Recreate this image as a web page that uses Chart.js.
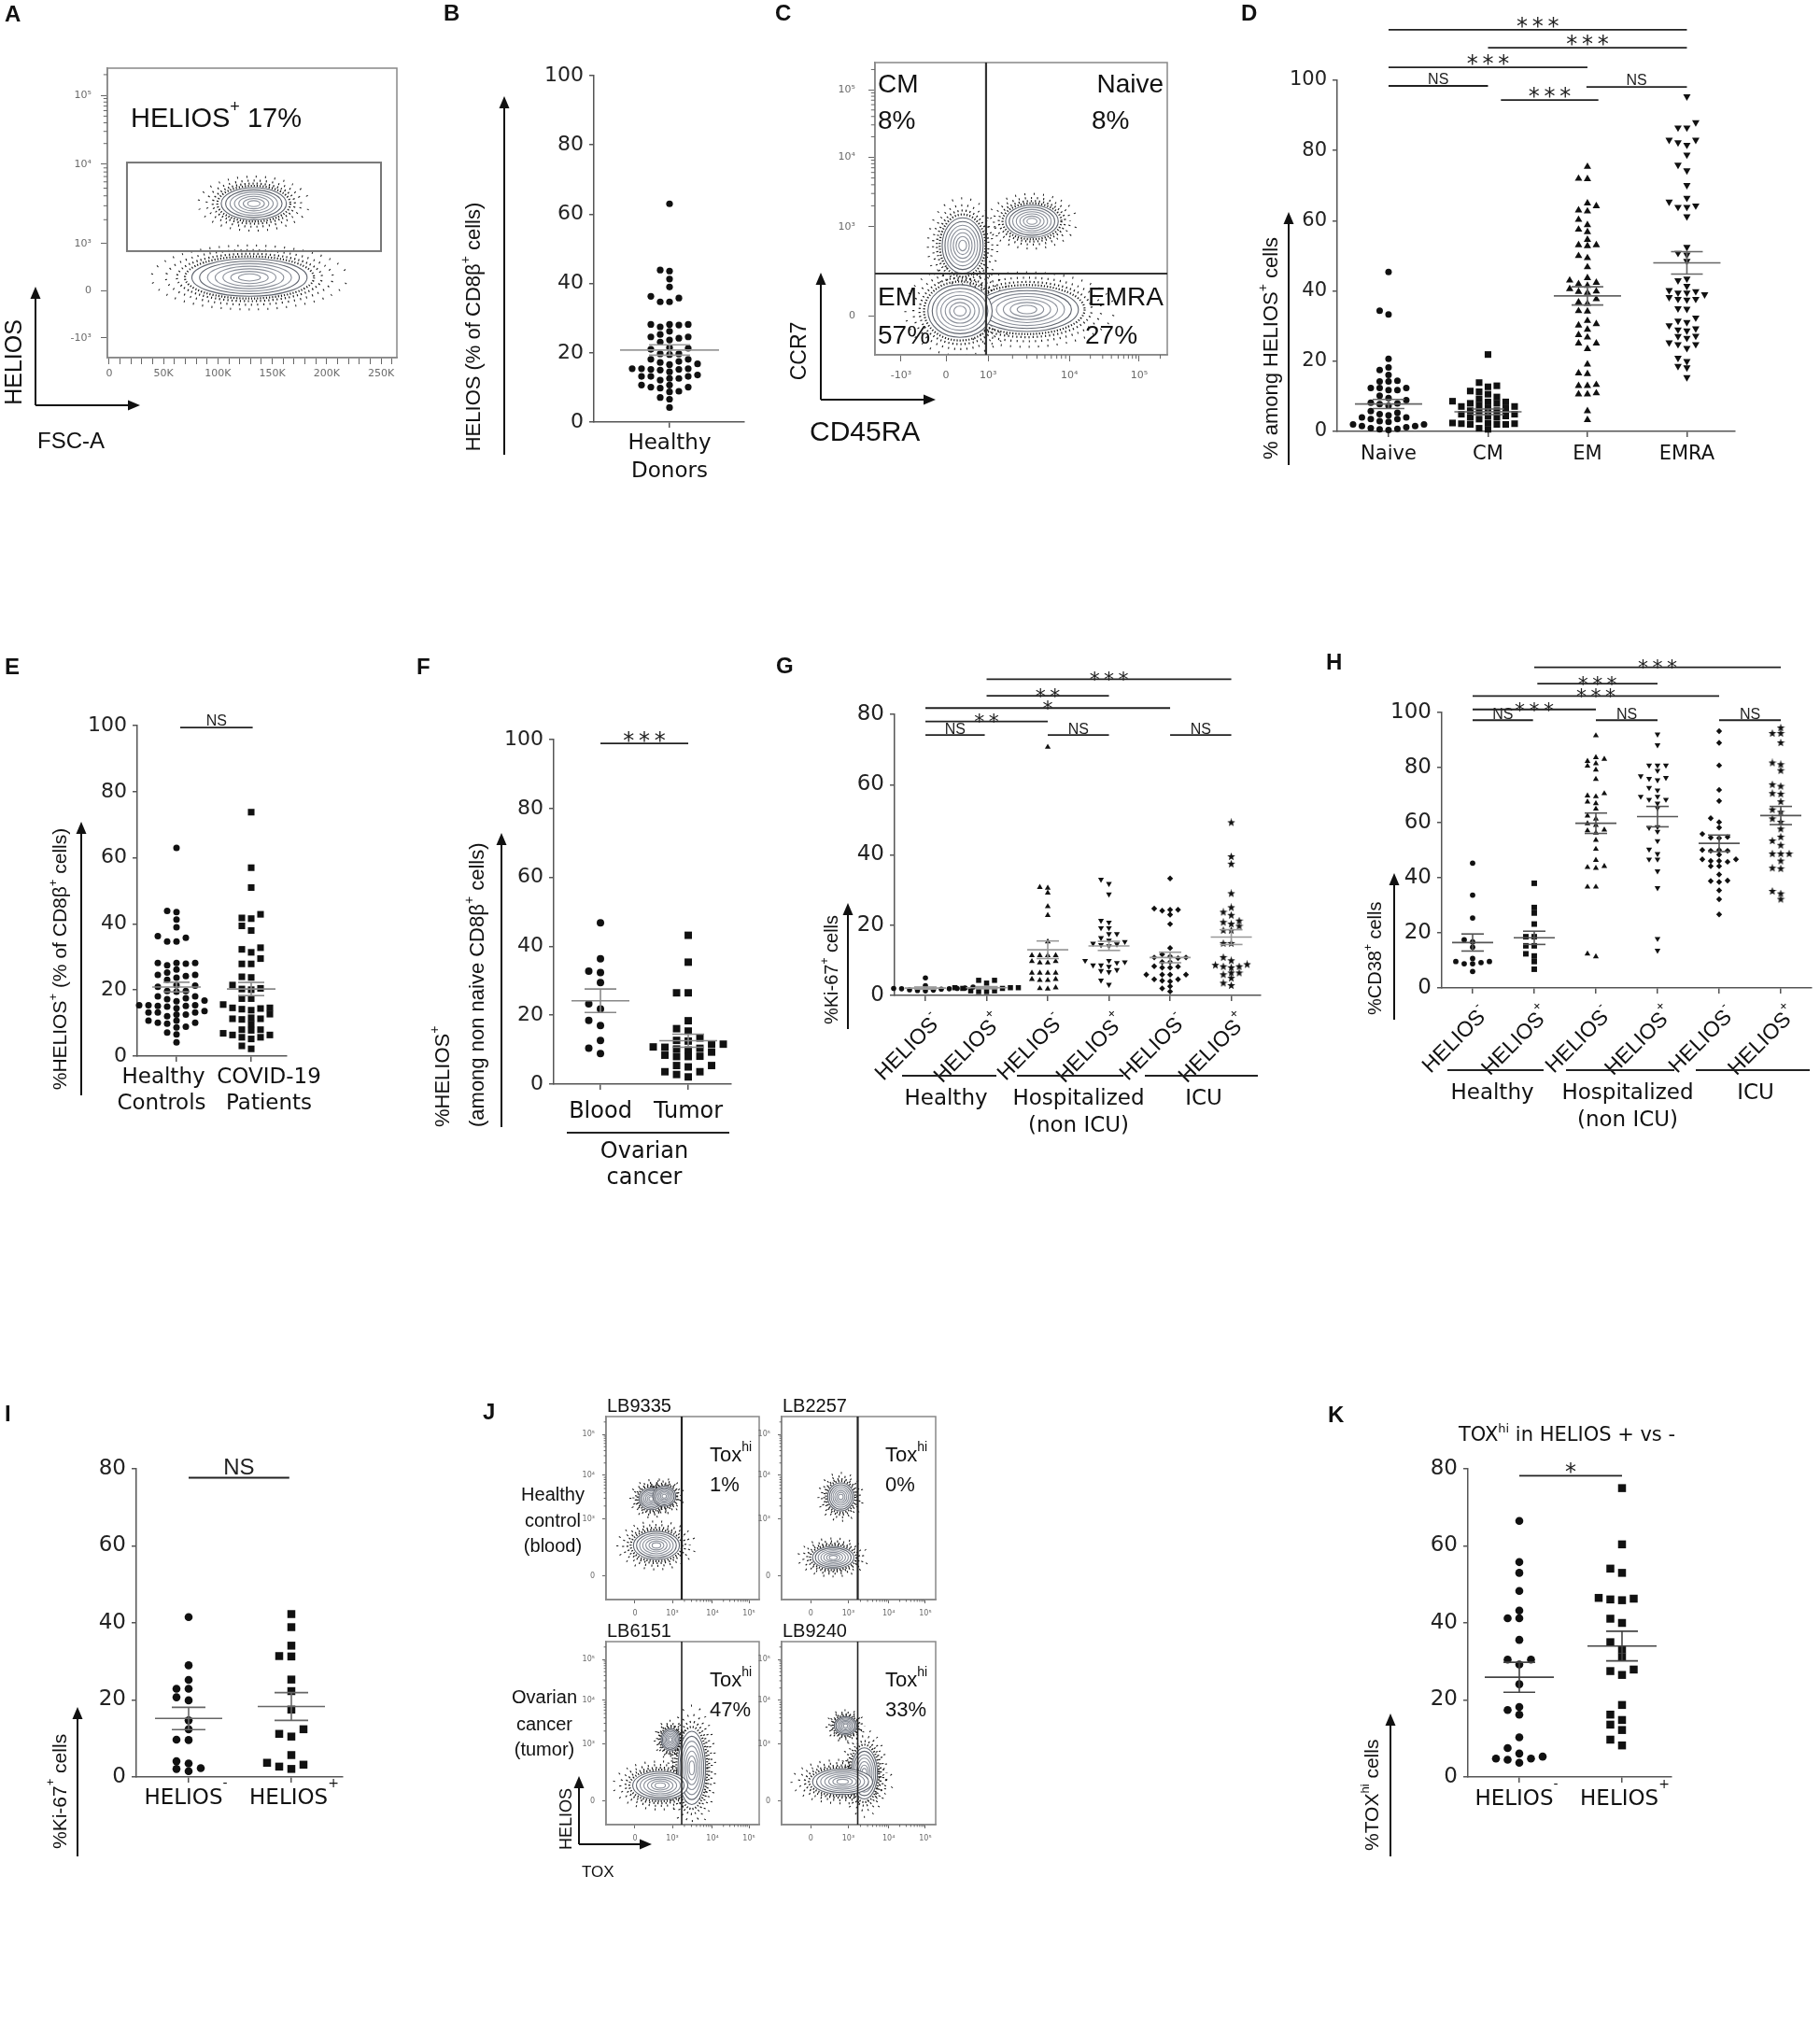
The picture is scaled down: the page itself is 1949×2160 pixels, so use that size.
<!DOCTYPE html>
<html lang="en">
<head>
<meta charset="utf-8">
<title>HELIOS+ CD8 T cells</title>
<script src="https://cdn.jsdelivr.net/npm/chart.js@4.4.1/dist/chart.umd.min.js"></script>
<style>
  body { margin: 0; background: #fff; }
  #page { position: relative; width: 1949px; height: 2160px; overflow: hidden; background: #fff; }
  #page canvas { position: absolute; }
</style>
</head>
<body>
<div id="page"></div>
<script>
// ============================
// Data
// ============================

// A - HELIOS vs FSC-A (channel units, FSC in K)
const heliosTicksA = [6.8, 23.2, 39.4, 66.8, 90.6];
const heliosLabelsA = ["-10³", "0", "10³", "10⁴", "10⁵"];
const fscTicksA = [0, 50, 100, 150, 200, 250];
const fscLabelsA = ["0", "50K", "100K", "150K", "200K", "250K"];
const heliosPopsA = [[129, 27.7, 53, 6.5], [133, 53.2, 30, 5.5]];   // [x, y, spreadX, spreadY]
const heliosGateA = [16.3, 36.8, 250, 67.4];
const heliosPctA = "17%";

// B / E - healthy donors, % HELIOS+ of CD8b+
const healthyHelios = [63.0, 43.9, 43.6, 41.3, 39.0, 36.3, 34.7, 34.7, 35.8,
  28.2, 28.0, 26.2, 27.5, 28.2, 28.2, 25.3, 24.6, 23.7, 23.1, 24.2, 24.6,
  19.7, 19.5, 21.3, 21.0, 21.5, 19.7, 17.2, 16.6, 18.1, 17.5, 18.1, 16.8,
  14.5, 13.2, 15.4, 15.2, 15.0, 15.2, 15.4, 15.4, 13.6, 13.2, 12.6, 12.1, 12.6, 13.2,
  10.7, 10.1, 9.8, 10.1, 10.7, 8.9, 8.7, 7.1, 6.6, 4.2];
const meanB = [20.8];
const semB = [1.5];

// C - CCR7 vs CD45RA
const ccr7Ticks = [13.4, 43.8, 67.7, 90.7];
const ccr7Labels = ["0", "10³", "10⁴", "10⁵"];
const cd45raTicks = [8.9, 24.3, 38.7, 66.5, 90.4];
const cd45raLabels = ["-10³", "0", "10³", "10⁴", "10⁵"];
const quadGateC = [38.0, 27.8];
const subsetPopsC = [[52, 15.5, 17.6, 7.5], [29.1, 15.0, 11, 9], [30, 37.4, 7, 9.5], [53.7, 45.7, 9, 5.5]];
const subsetNames = ["CM", "Naive", "EM", "EMRA"];
const subsetPct = ["8%", "8%", "57%", "27%"];

// D - % among HELIOS+ cells per subset
const subsetCats = ["Naive", "CM", "EM", "EMRA"];
const naiveD = [45.4, 34.4, 33.3, 20.7, 18.2, 17.5, 14.4, 14.2, 14.2, 16.1, 12.4, 11.8, 12.4, 11.8, 12.4,
  10.2, 8.9, 8.0, 7.8, 7.3, 8.2, 9.5, 5.3, 4.6, 4.0, 3.5, 4.0, 4.9, 5.8, 3.5, 2.7, 2.0, 1.5, 1.2, 1.5,
  2.0, 2.9, 0.9, 0.6, 0.4, 0.7];
const cmD = [21.9, 13.9, 12.7, 13.0, 11.5, 10.6, 9.8, 11.3, 9.3, 8.4, 8.0, 7.5, 8.0, 8.4, 8.6, 7.1, 6.5,
  5.9, 5.6, 5.9, 6.5, 7.1, 4.9, 4.4, 4.0, 3.5, 4.0, 4.4, 4.9, 2.4, 2.2, 2.0, 2.0, 2.0, 2.2, 2.4, 0.9, 0.6];
const emD = [75.4, 72.0, 71.9, 63.0, 64.2, 65.0, 62.7, 58.8, 60.3, 57.5, 56.8, 54.6, 53.1, 53.1, 52.8,
  50.0, 49.4, 46.8, 43.7, 42.4, 42.0, 41.5, 43.0, 39.5, 40.6, 39.9, 39.8, 36.8, 37.7, 36.4, 34.2, 34.3,
  31.5, 30.6, 30.2, 29.0, 26.8, 27.5, 25.1, 25.1, 23.5, 19.1, 16.4, 16.6, 13.3, 13.0, 13.0, 10.6, 10.6,
  10.9, 5.8, 3.3];
const emraD = [95.4, 88.0, 86.5, 86.5, 83.0, 82.3, 81.6, 83.0, 78.8, 75.9, 74.3, 70.1, 66.5, 65.4, 64.3,
  63.9, 63.9, 61.2, 52.5, 50.8, 50.3, 48.5, 43.5, 43.0, 40.2, 39.5, 39.0, 39.5, 39.9, 41.4, 37.5, 38.2,
  37.7, 37.7, 35.0, 34.9, 31.5, 30.2, 31.1, 32.4, 29.3, 29.0, 28.7, 26.6, 27.2, 27.1, 25.3, 24.8, 24.8,
  23.7, 20.0, 18.6, 18.2, 20.9, 15.4];
const meanD = [7.8, 5.6, 38.6, 48.0];
const semD = [1.3, 0.8, 2.6, 3.2];
const sigD = [[0, 3, 114.4, "***"], [1, 3, 109.3, "***"], [0, 2, 103.7, "***"], [0, 1, 98.4, "NS"],
  [1.13, 2.11, 94.4, "***"], [1.99, 3, 98.1, "NS"]];

// E - healthy controls vs COVID-19 patients
const covidHelios = [73.8, 57.0, 51.0, 42.9, 41.8, 41.6, 39.4, 38.0, 32.8, 31.4, 32.3, 27.9, 27.9, 29.5,
  23.8, 24.0, 20.3, 20.1, 21.5, 20.5, 17.4, 17.4, 15.6, 14.6, 14.2, 13.9, 14.4, 14.6, 11.6, 11.3, 11.1,
  11.3, 12.7, 9.7, 7.8, 8.0, 8.0, 6.4, 6.4, 5.2, 5.7, 5.7, 6.9, 2.2, 3.1];
const meanE = [20.9, 20.3];
const semE = [1.45, 2.0];
const sigE = [[0.05, 1.02, 99.4, "NS"]];

// F - ovarian cancer, blood vs tumor
const bloodF = [46.8, 36.4, 32.8, 32.4, 29.5, 23.3, 21.8, 18.5, 17.0, 12.7, 10.4, 8.9];
const tumorF = [43.2, 35.4, 26.5, 26.5, 18.4, 15.4, 16.1, 13.4, 12.7, 12.5, 10.8, 10.7, 11.6, 11.6, 8.4,
  9.3, 9.9, 10.4, 10.2, 8.0, 8.1, 8.0, 5.0, 5.4, 5.4, 3.6, 2.1, 2.8, 3.6];
const meanF = [24.2, 12.6];
const semF = [3.4, 1.9];
const sigF = [[0, 1, 98.9, "***"]];

// G - %Ki-67+ (healthy / hospitalized / ICU, HELIOS- and HELIOS+)
const kiHealthyNeg = [5.0, 2.8, 2.4, 2.2, 2.1, 2.1, 2.0, 2.0, 1.9, 1.9, 1.8, 1.6, 1.5, 1.4, 1.3];
const kiHealthyPos = [4.3, 4.3, 3.5, 2.2, 2.0, 2.0, 2.2, 2.2, 1.3, 1.1, 1.1, 1.3];
const kiHospNeg = [70.7, 30.6, 30.8, 29.2, 25.3, 22.8, 15.3, 11.4, 11.4, 11.4, 11.4, 9.7, 9.7, 9.3, 9.3,
  6.4, 6.4, 6.4, 6.4, 4.6, 4.3, 4.3, 4.6, 2.0, 1.9, 2.2];
const kiHospPos = [33.0, 31.8, 28.8, 20.8, 21.3, 19.2, 19.2, 17.5, 17.5, 15.7, 16.4, 15.3, 14.4, 14.1, 14.6,
  14.8, 9.9, 9.3, 9.5, 9.9, 8.6, 8.2, 8.6, 7.0, 6.7, 7.3, 4.3, 3.1];
const kiIcuNeg = [33.3, 24.1, 23.0, 24.7, 24.4, 24.4, 20.3, 13.5, 11.7, 10.8, 10.6, 10.8, 11.1, 9.5, 9.5,
  7.9, 8.2, 7.9, 8.3, 5.9, 5.9, 5.9, 5.9, 4.2, 4.6, 4.6, 4.0, 2.6, 2.0, 1.1];
const kiIcuPos = [49.2, 39.5, 37.4, 29.0, 25.0, 22.8, 23.7, 21.2, 20.8, 20.3, 19.7, 18.5, 18.5, 14.8, 14.8,
  10.8, 9.9, 8.8, 8.2, 7.9, 8.2, 8.6, 6.4, 5.9, 4.9, 6.4, 2.8, 3.5];
const meanG = [2.1, 2.2, 13.0, 14.1, 10.8, 16.6];
const semG = [0.3, 0.3, 2.5, 1.3, 1.5, 2.1];
const sigG = [[1, 5, 90.0, "***"], [1, 3, 85.3, "**"], [0, 4, 81.8, "*"], [0, 2, 78.0, "**"],
  [0, 0.97, 74.1, "NS"], [2, 3, 74.1, "NS"], [4, 5, 74.1, "NS"]];

// H - %CD38+
const cdHealthyNeg = [45.3, 33.7, 25.4, 17.5, 16.7, 14.8, 10.7, 9.6, 8.8, 8.8, 9.2, 9.6, 6.0];
const cdHealthyPos = [38.0, 29.2, 27.2, 23.2, 18.6, 18.6, 15.3, 15.3, 12.4, 11.6, 9.6, 6.8];
const cdHospNeg = [91.6, 82.3, 83.1, 83.7, 81.5, 80.6, 79.2, 75.8, 70.6, 69.8, 69.5, 67.6, 67.0, 65.0, 62.5,
  61.4, 59.1, 59.7, 57.1, 56.3, 57.4, 53.7, 50.4, 46.4, 44.2, 43.5, 43.8, 36.7, 36.7, 11.4, 12.4];
const cdHospPos = [92.1, 88.2, 80.8, 80.8, 80.8, 78.9, 76.3, 75.5, 76.0, 76.9, 72.7, 71.8, 69.5, 68.4, 68.4,
  69.5, 67.0, 65.3, 58.2, 58.5, 56.8, 53.4, 50.3, 48.7, 46.7, 46.7, 42.4, 36.3, 17.9, 13.6];
const cdIcuNeg = [93.2, 89.0, 80.8, 71.9, 67.9, 61.6, 60.2, 58.2, 55.9, 54.6, 54.4, 54.8, 50.1, 48.4, 50.1,
  49.8, 49.8, 46.7, 46.1, 45.8, 46.1, 46.7, 44.2, 44.2, 41.2, 38.8, 38.5, 39.0, 35.4, 32.2, 26.7];
const cdIcuPos = [94.4, 92.4, 92.4, 89.0, 81.1, 81.7, 78.9, 73.2, 73.8, 70.6, 70.4, 67.6, 64.7, 63.8, 60.2,
  61.4, 57.7, 53.4, 54.8, 51.8, 48.7, 48.7, 48.7, 46.1, 43.3, 43.5, 35.1, 34.2, 32.2];
const meanH = [16.5, 18.2, 59.8, 62.2, 52.5, 62.6];
const semH = [3.1, 2.4, 3.7, 3.7, 3.0, 3.3];
const sigH = [[1, 5, 116.4, "***"], [1.05, 3, 110.5, "***"], [0, 4, 106.0, "***"], [0, 2, 101.1, "***"],
  [0, 0.98, 97.2, "NS"], [2, 3, 97.2, "NS"], [4, 5, 97.2, "NS"]];

// I - %Ki-67+ in ovarian tumor
const kiTumorNeg = [41.5, 29.0, 25.2, 22.9, 22.9, 19.9, 20.7, 14.7, 12.4, 9.6, 9.7, 4.1, 3.5, 2.3, 1.5, 2.1];
const kiTumorPos = [42.3, 38.9, 34.1, 31.3, 31.4, 25.3, 22.3, 17.5, 12.4, 10.5, 11.2, 5.7, 3.2, 2.1, 2.7, 3.7];
const meanI = [15.2, 18.3];
const semI = [2.9, 3.6];
const sigI = [[0, 0.98, 77.7, "NS"]];

// J - HELIOS vs TOX contour plots
const sampleIds = ["LB9335", "LB2257", "LB6151", "LB9240"];
const toxHiPct = ["1%", "0%", "47%", "33%"];
const toxTicks = [18.9, 43.3, 69.5, 93.3];
const toxLabels = ["0", "10³", "10⁴", "10⁵"];
const heliosTicksJ = [12.8, 43.9, 67.9, 90.3];
const heliosLabelsJ = ["0", "10³", "10⁴", "10⁵"];
const toxGate = 49.4;
const popsLB9335 = [[32.9, 29.6, 15, 7.7], [29.5, 55.1, 8, 6], [38, 56.5, 7.5, 5.5]];
const popsLB2257 = [[33.5, 23, 13.4, 6.1], [38.4, 56.1, 8.5, 7.7]];
const popsLB6151 = [[56, 31, 9, 20], [35.4, 21.4, 18, 7.7], [42, 46.4, 6, 6.1]];
const popsLB9240 = [[53.7, 28, 8.5, 14], [39.6, 23.5, 19.5, 7], [41.5, 54, 7.3, 5]];

// K - TOXhi in HELIOS+ vs -
const toxNeg = [66.5, 55.8, 53.0, 48.3, 43.2, 41.2, 41.2, 35.6, 30.5, 30.5, 29.2, 24.1, 17.4, 18.2, 16.2,
  10.3, 7.5, 5.3, 4.8, 3.7, 4.5, 4.8, 6.1];
const toxPos = [75.0, 60.4, 54.1, 53.0, 46.3, 45.9, 46.1, 46.5, 41.1, 40.0, 35.0, 33.1, 31.1, 27.9, 26.5,
  27.5, 18.7, 16.2, 14.8, 13.6, 12.2, 9.7, 8.2];
const meanK = [25.9, 34.0];
const semK = [3.9, 3.85];
const sigK = [[0, 1, 78.2, "*"]];

// ============================
// Helpers
// ============================
const SANS = '"Liberation Sans", Arial, sans-serif';
const WIDE = '"DejaVu Sans", Verdana, sans-serif';
const INK = "#111";
const AXIS = "#555";

Chart.defaults.font.family = WIDE;
Chart.defaults.color = "#222";

const page = document.getElementById("page");

function addCanvas(x, y, w, h) {
  const c = document.createElement("canvas");
  c.width = w; c.height = h;
  c.style.left = x + "px"; c.style.top = y + "px";
  c.style.width = w + "px"; c.style.height = h + "px";
  page.appendChild(c);
  return c;
}

function line(ctx, x1, y1, x2, y2) {
  ctx.beginPath(); ctx.moveTo(x1, y1); ctx.lineTo(x2, y2); ctx.stroke();
}

// text with ^{...} superscripts
function label(ctx, str, x, y, o = {}) {
  const size = o.size || 20, fam = o.family || SANS;
  const parts = [];
  str.split(/(\^\{[^}]*\})/).forEach(s => {
    if (!s) return;
    if (s.startsWith("^{")) parts.push([s.slice(2, -1), true]); else parts.push([s, false]);
  });
  ctx.save();
  ctx.translate(x, y);
  if (o.rot) ctx.rotate(o.rot);
  ctx.fillStyle = o.color || INK;
  ctx.textAlign = "left";
  ctx.textBaseline = "alphabetic";
  const font = sup => `${o.bold ? "bold " : ""}${sup ? Math.round(size * 0.62) : size}px ${fam}`;
  let w = 0;
  parts.forEach(([s, sup]) => { ctx.font = font(sup); w += ctx.measureText(s).width; });
  let cx = o.align === "center" ? -w / 2 : o.align === "right" ? -w : 0;
  parts.forEach(([s, sup]) => {
    ctx.font = font(sup);
    ctx.fillText(s, cx, sup ? -size * (o.raise || 0.48) : 0);
    cx += ctx.measureText(s).width;
  });
  ctx.restore();
}

function letter(ctx, ch, x, y) {
  label(ctx, ch, x, y, { size: 24, bold: true });
}

function arrow(ctx, x1, y1, x2, y2) {
  const a = Math.atan2(y2 - y1, x2 - x1), L = 13, W = 5.5;
  ctx.save();
  ctx.strokeStyle = INK; ctx.fillStyle = INK; ctx.lineWidth = 2;
  line(ctx, x1, y1, x2 - L * 0.8 * Math.cos(a), y2 - L * 0.8 * Math.sin(a));
  ctx.beginPath();
  ctx.moveTo(x2, y2);
  ctx.lineTo(x2 - L * Math.cos(a) + W * Math.sin(a), y2 - L * Math.sin(a) - W * Math.cos(a));
  ctx.lineTo(x2 - L * Math.cos(a) - W * Math.sin(a), y2 - L * Math.sin(a) + W * Math.cos(a));
  ctx.closePath(); ctx.fill();
  ctx.restore();
}

// GraphPad-like column scatter: points spread sideways on a grid until they stop overlapping
function swarm(values, center, pxX, pxY, dx, row) {
  const order = values.map((v, i) => i).sort((a, b) => values[a] - values[b]);
  const placed = [];
  const pts = [];
  order.forEach(i => {
    const py = values[i] * pxY;
    let off = 0;
    for (let k = 0; k < 80; k++) {
      off = (k % 2 ? -1 : 1) * Math.ceil(k / 2) * dx;
      if (!placed.some(q => Math.abs(q[1] - py) < row && Math.abs(q[0] - off) < dx * 0.98)) break;
    }
    placed.push([off, py]);
    pts[i] = { x: center + off / pxX, y: values[i] };
  });
  return pts;
}

function starImage(size) {
  const c = document.createElement("canvas");
  c.width = c.height = size;
  const g = c.getContext("2d");
  g.fillStyle = INK;
  g.beginPath();
  for (let k = 0; k < 10; k++) {
    const rr = k % 2 ? size * 0.21 : size * 0.5;
    const a = -Math.PI / 2 + k * Math.PI / 5;
    g.lineTo(size / 2 + rr * Math.cos(a), size / 2 + rr * Math.sin(a));
  }
  g.closePath(); g.fill();
  return c;
}
const smallStar = starImage(9);

function drawSig(ctx, X, Y, sig, s) {
  ctx.save();
  ctx.strokeStyle = "#222"; ctx.lineWidth = 1.8;
  sig.forEach(([a, b, v, txt]) => {
    const x1 = X(a), x2 = X(b), y = Y(v), mid = (x1 + x2) / 2;
    line(ctx, x1, y, x2, y);
    if (txt === "NS") {
      label(ctx, "NS", mid, y - s.nsGap, { size: s.nsSize, align: "center", color: "#222" });
    } else {
      const stars = txt.split("").join("\u2009");
      label(ctx, stars, mid, y - s.starGap + 0.58 * s.starSize, { size: s.starSize, family: WIDE, align: "center", color: "#222" });
    }
  });
  ctx.restore();
}

function drawMeans(ctx, X, Y, means, sems, m) {
  ctx.save();
  ctx.strokeStyle = m.color; ctx.lineWidth = 1.6;
  means.forEach((v, i) => {
    const x = X(i), y = Y(v), y1 = Y(v + sems[i]), y2 = Y(v - sems[i]);
    line(ctx, x - m.half, y, x + m.half, y);
    line(ctx, x - m.cap, y1, x + m.cap, y1);
    line(ctx, x - m.cap, y2, x + m.cap, y2);
    line(ctx, x, y1, x, y2);
  });
  ctx.restore();
}

function helioLabels(ctx, X, axisY, n) {
  for (let i = 0; i < n; i++) {
    label(ctx, i % 2 ? "HELIOS^{+}" : "HELIOS^{-}", X(i) + 18, axisY + 29,
      { size: 23, rot: -Math.PI / 4, align: "right", raise: 0.55 });
  }
}

function groupLine(ctx, x1, x2, y) {
  ctx.save(); ctx.strokeStyle = "#222"; ctx.lineWidth = 1.8; line(ctx, x1, y, x2, y); ctx.restore();
}

// ============================
// Column scatter panel
// ============================
function dotPanel(p) {
  const [bx, by, bw, bh] = p.box;
  const [l, t, r, b] = p.area;
  const canvas = addCanvas(bx, by, bw, bh);
  const pxX = (r - l) / (p.x[1] - p.x[0]);
  const pxY = (b - t) / (p.y[1] - p.y[0]);
  const cats = p.groups.map((g, i) => i);

  return new Chart(canvas, {
    type: "scatter",
    data: {
      datasets: p.groups.map((g, i) => ({
        data: swarm(g.values, i, pxX, pxY, p.dx, p.row),
        pointStyle: g.style,
        pointRadius: g.r,
        pointRotation: g.rot || 0,
        pointBackgroundColor: INK,
        pointBorderColor: INK,
        pointBorderWidth: 0,
        clip: false
      }))
    },
    options: {
      responsive: false,
      animation: false,
      events: [],
      // axis boxes take the whole margin so tick labels are not clipped
      layout: { autoPadding: false, padding: { left: 0, top: t - by, right: bx + bw - r, bottom: 0 } },
      plugins: { legend: { display: false }, tooltip: { enabled: false } },
      scales: {
        x: {
          type: "linear", min: p.x[0], max: p.x[1],
          afterFit: s => { s.height = by + bh - b; },
          afterBuildTicks: s => { s.ticks = cats.map(v => ({ value: v })); },
          ticks: { display: false },
          grid: { drawOnChartArea: false, drawTicks: true, tickLength: 6, color: AXIS, lineWidth: 1.5 },
          border: { color: AXIS, width: 1.5 }
        },
        y: {
          type: "linear", min: p.y[0], max: p.y[1],
          afterFit: s => { s.width = l - bx; },
          afterBuildTicks: s => { s.ticks = p.yTicks.map(v => ({ value: v })); },
          ticks: { autoSkip: false, padding: 6, color: "#222", font: { size: p.tickFont } },
          grid: { drawOnChartArea: false, drawTicks: true, tickLength: 5, color: AXIS, lineWidth: 1.5 },
          border: { color: AXIS, width: 1.5 }
        }
      }
    },
    plugins: [{
      id: "notes",
      afterDraw(chart) {
        const ctx = chart.ctx, xs = chart.scales.x, ys = chart.scales.y;
        const X = v => xs.getPixelForValue(v) + bx;
        const Y = v => ys.getPixelForValue(v) + by;
        ctx.save();
        ctx.translate(-bx, -by);
        drawMeans(ctx, X, Y, p.means, p.sems, p.meanStyle);
        if (p.sig) drawSig(ctx, X, Y, p.sig, p.sigStyle);
        p.draw(ctx, X, Y);
        ctx.restore();
      }
    }]
  });
}

// ============================
// Flow cytometry contour panel
// ============================
function decadeMinors(ctx, s, dec, horiz, at, len) {
  const step = dec[dec.length - 1] - dec[dec.length - 2];
  dec.forEach((d, k) => {
    const span = k < dec.length - 1 ? dec[k + 1] - d : step;
    for (let m = 2; m <= 9; m++) {
      const v = d + span * Math.log10(m);
      if (v > s.max) return;
      const px = s.getPixelForValue(v);
      if (horiz) line(ctx, px, at, px, at + len); else line(ctx, at - len, px, at, px);
    }
  });
}

// dotted "event" halo rings, denser near the contours
const haloRings = [[1.12, 1.2, 2.0], [1.26, 1.2, 3.2], [1.45, 1.1, 5.5], [1.7, 1.0, 9]];

function drawPops(ctx, xs, ys, pops) {
  const shapes = pops.map(([cx, cy, sx, sy]) => {
    const x = xs.getPixelForValue(cx), y = ys.getPixelForValue(cy);
    return [x, y, Math.abs(xs.getPixelForValue(cx + sx) - x), Math.abs(ys.getPixelForValue(cy + sy) - y)];
  });
  ctx.save();
  ctx.strokeStyle = "#1a1a1a";
  ctx.lineWidth = 2.2;
  shapes.forEach(([x, y, rx, ry]) => {
    haloRings.forEach(([f, dot, gap], k) => {
      ctx.setLineDash([dot, gap]);
      ctx.lineDashOffset = k * 1.3;
      ctx.beginPath(); ctx.ellipse(x, y, rx * f, ry * f, 0, 0, Math.PI * 2); ctx.stroke();
    });
  });
  ctx.setLineDash([]);
  shapes.forEach(([x, y, rx, ry]) => {
    ctx.fillStyle = "#fff";
    ctx.beginPath(); ctx.ellipse(x, y, rx, ry, 0, 0, Math.PI * 2); ctx.fill();
    ctx.lineWidth = 1.1;
    for (let k = 0; k < 7; k++) {
      const f = 1 - k * 0.135;
      ctx.strokeStyle = k < 2 ? "#5f646e" : "#8a8f99";
      ctx.beginPath(); ctx.ellipse(x, y, rx * f, ry * f, 0, 0, Math.PI * 2); ctx.stroke();
    }
  });
  ctx.restore();
}

function flowPanel(p) {
  const [bx, by, bw, bh] = p.box;
  const [l, t, r, b] = p.area;
  const canvas = addCanvas(bx, by, bw, bh);
  const axis = (range, ticks, labels, pad, every) => ({
    type: "linear", min: range[0], max: range[1],
    afterFit: s => { if (s.isHorizontal()) s.height = by + bh - b; else s.width = l - bx; },
    afterBuildTicks: s => {
      const vals = ticks.slice();
      if (every) for (let v = 0; v <= range[1]; v += every) if (!vals.includes(v)) vals.push(v);
      s.ticks = vals.sort((m, n) => m - n).map(v => ({ value: v }));
    },
    ticks: {
      autoSkip: false, minRotation: 0, maxRotation: 0, padding: pad, color: "#6b6b6b",
      font: { size: p.font },
      callback: v => { const k = ticks.indexOf(v); return k < 0 ? "" : labels[k]; }
    },
    grid: { drawOnChartArea: false, drawTicks: true, tickLength: p.tick, color: "#666", lineWidth: 1 },
    border: { display: true, color: "#888", width: 1.5 }
  });

  return new Chart(canvas, {
    type: "scatter",
    data: { datasets: [] },
    options: {
      responsive: false,
      animation: false,
      events: [],
      layout: { autoPadding: false, padding: { left: 0, top: t - by, right: bx + bw - r, bottom: 0 } },
      plugins: { legend: { display: false }, tooltip: { enabled: false } },
      scales: {
        x: axis(p.x, p.xTicks, p.xLabels, p.xPad, p.xEvery),
        y: axis(p.y, p.yTicks, p.yLabels, p.yPad)
      }
    },
    plugins: [{
      id: "flow",
      afterDraw(chart) {
        const ctx = chart.ctx, xs = chart.scales.x, ys = chart.scales.y, a = chart.chartArea;
        ctx.save();
        ctx.beginPath();
        ctx.rect(a.left, a.top, a.right - a.left, a.bottom - a.top);
        ctx.save();
        ctx.clip();
        drawPops(ctx, xs, ys, p.pops);
        ctx.restore();
        ctx.strokeStyle = "#888"; ctx.lineWidth = 1.5;
        ctx.strokeRect(a.left, a.top, a.right - a.left, a.bottom - a.top);
        ctx.strokeStyle = "#666"; ctx.lineWidth = 1;
        if (p.xLog) decadeMinors(ctx, xs, p.xTicks.slice(-3), true, a.bottom, p.tick * 0.6);
        decadeMinors(ctx, ys, p.yTicks.slice(-3), false, a.left, p.tick * 0.6);
        ctx.translate(-bx, -by);
        p.draw(ctx, v => xs.getPixelForValue(v) + bx, v => ys.getPixelForValue(v) + by);
        ctx.restore();
      }
    }]
  });
}

// ============================
// A
// ============================
flowPanel({
  box: [0, 0, 440, 500], area: [115, 73, 425, 383],
  x: [-1.7, 264.6], y: [0, 100],
  xTicks: fscTicksA, xLabels: fscLabelsA, xEvery: 10,
  yTicks: heliosTicksA, yLabels: heliosLabelsA,
  font: 11, tick: 7, xPad: 4, yPad: 10,
  pops: heliosPopsA,
  draw(ctx, X, Y) {
    ctx.strokeStyle = "#777"; ctx.lineWidth = 2;
    const [x1, y1, x2, y2] = heliosGateA;
    ctx.strokeRect(X(x1), Y(y2), X(x2) - X(x1), Y(y1) - Y(y2));
    letter(ctx, "A", 5, 23);
    label(ctx, "HELIOS^{+} " + heliosPctA, 140, 136, { size: 29, raise: 0.55 });
    arrow(ctx, 38, 434, 38, 307);
    arrow(ctx, 38, 434, 150, 434);
    label(ctx, "HELIOS", 23, 388, { size: 25, rot: -Math.PI / 2, align: "center" });
    label(ctx, "FSC-A", 40, 480, { size: 24 });
  }
});

// ============================
// B
// ============================
dotPanel({
  box: [440, 0, 380, 525], area: [636, 81, 797, 452],
  x: [-1, 0.988], y: [0, 100], yTicks: [0, 20, 40, 60, 80, 100], tickFont: 22,
  groups: [{ values: healthyHelios, style: "circle", r: 3.6 }],
  dx: 10, row: 7,
  means: meanB, sems: semB, meanStyle: { half: 53, cap: 22, color: "#999" },
  draw(ctx, X) {
    letter(ctx, "B", 475, 22);
    label(ctx, "Healthy", X(0), 481, { size: 23, family: WIDE, align: "center" });
    label(ctx, "Donors", X(0), 511, { size: 23, family: WIDE, align: "center" });
    label(ctx, "HELIOS (% of CD8β^{+} cells)", 514, 350, { size: 22, rot: -Math.PI / 2, align: "center" });
    arrow(ctx, 540, 487, 540, 103);
  }
});

// ============================
// C
// ============================
flowPanel({
  box: [820, 0, 440, 480], area: [937, 67, 1250, 380],
  x: [0, 100], y: [0, 100],
  xTicks: cd45raTicks, xLabels: cd45raLabels, xLog: true,
  yTicks: ccr7Ticks, yLabels: ccr7Labels,
  font: 11, tick: 7, xPad: 9, yPad: 14,
  pops: subsetPopsC,
  draw(ctx, X, Y) {
    ctx.strokeStyle = "#333"; ctx.lineWidth = 2.2;
    line(ctx, X(quadGateC[0]), 67, X(quadGateC[0]), 380);
    line(ctx, 937, Y(quadGateC[1]), 1250, Y(quadGateC[1]));
    letter(ctx, "C", 830, 22);
    label(ctx, subsetNames[0], 940, 99, { size: 28 });
    label(ctx, subsetPct[0], 940, 138, { size: 28 });
    label(ctx, subsetNames[1], 1246, 99, { size: 28, align: "right" });
    label(ctx, subsetPct[1], 1169, 138, { size: 28 });
    label(ctx, subsetNames[2], 940, 327, { size: 28 });
    label(ctx, subsetPct[2], 940, 368, { size: 28 });
    label(ctx, subsetNames[3], 1246, 327, { size: 28, align: "right" });
    label(ctx, subsetPct[3], 1162, 368, { size: 28 });
    arrow(ctx, 879, 428, 879, 292);
    arrow(ctx, 879, 428, 1002, 428);
    label(ctx, "CCR7", 863, 376, { size: 23, rot: -Math.PI / 2, align: "center" });
    label(ctx, "CD45RA", 867, 472, { size: 30 });
  }
});

// ============================
// D
// ============================
dotPanel({
  box: [1325, 0, 624, 525], area: [1432, 86, 1858, 462],
  x: [-0.516, 3.484], y: [0, 100], yTicks: [0, 20, 40, 60, 80, 100], tickFont: 21,
  groups: [
    { values: naiveD, style: "circle", r: 3.5 },
    { values: cmD, style: "rect", r: 5 },
    { values: emD, style: "triangle", r: 4.6 },
    { values: emraD, style: "triangle", r: 4.6, rot: 180 }
  ],
  dx: 9.5, row: 6.5,
  means: meanD, sems: semD, meanStyle: { half: 36, cap: 17, color: "#666" },
  sig: sigD, sigStyle: { starSize: 24, starGap: 10, nsSize: 16, nsGap: 2 },
  draw(ctx, X) {
    letter(ctx, "D", 1329, 22);
    subsetCats.forEach((c, i) => label(ctx, c, X(i), 492, { size: 21, family: WIDE, align: "center" }));
    label(ctx, "% among HELIOS^{+} cells", 1368, 373, { size: 22, rot: -Math.PI / 2, align: "center" });
    arrow(ctx, 1380, 498, 1380, 227);
  }
});

// ============================
// E
// ============================
dotPanel({
  box: [0, 690, 420, 520], area: [147, 777, 307, 1131],
  x: [-0.525, 1.475], y: [0, 100], yTicks: [0, 20, 40, 60, 80, 100], tickFont: 22,
  groups: [
    { values: healthyHelios, style: "circle", r: 3.5 },
    { values: covidHelios, style: "rect", r: 5 }
  ],
  dx: 10, row: 6.5,
  means: meanE, sems: semE, meanStyle: { half: 26, cap: 14, color: "#888" },
  sig: sigE, sigStyle: { starSize: 24, starGap: 10, nsSize: 16, nsGap: 2 },
  draw(ctx) {
    letter(ctx, "E", 5, 722);
    label(ctx, "Healthy", 175, 1160, { size: 23, family: WIDE, align: "center" });
    label(ctx, "Controls", 173, 1188, { size: 23, family: WIDE, align: "center" });
    label(ctx, "COVID-19", 288, 1160, { size: 23, family: WIDE, align: "center" });
    label(ctx, "Patients", 288, 1188, { size: 23, family: WIDE, align: "center" });
    label(ctx, "%HELIOS^{+} (% of CD8β^{+} cells)", 71, 1027, { size: 21, rot: -Math.PI / 2, align: "center" });
    arrow(ctx, 87, 1173, 87, 880);
  }
});

// ============================
// F
// ============================
dotPanel({
  box: [420, 700, 400, 580], area: [593, 792, 783, 1161],
  x: [-0.532, 1.489], y: [0, 100], yTicks: [0, 20, 40, 60, 80, 100], tickFont: 22,
  groups: [
    { values: bloodF, style: "circle", r: 4 },
    { values: tumorF, style: "rect", r: 5.6 }
  ],
  dx: 12.5, row: 7,
  means: meanF, sems: semF, meanStyle: { half: 31, cap: 17, color: "#888" },
  sig: sigF, sigStyle: { starSize: 24, starGap: 9, nsSize: 16, nsGap: 2 },
  draw(ctx, X) {
    letter(ctx, "F", 446, 722);
    label(ctx, "Blood", X(0), 1197, { size: 24, family: WIDE, align: "center" });
    label(ctx, "Tumor", X(1), 1197, { size: 24, family: WIDE, align: "center" });
    groupLine(ctx, 607, 781, 1213);
    label(ctx, "Ovarian", 690, 1240, { size: 24, family: WIDE, align: "center" });
    label(ctx, "cancer", 690, 1268, { size: 24, family: WIDE, align: "center" });
    label(ctx, "%HELIOS^{+}", 481, 1207, { size: 22, rot: -Math.PI / 2 });
    label(ctx, "(among non naive CD8β^{+} cells)", 518, 1207, { size: 22, rot: -Math.PI / 2 });
    arrow(ctx, 537, 1207, 537, 892);
  }
});

// ============================
// G
// ============================
dotPanel({
  box: [828, 700, 545, 525], area: [958, 765, 1350, 1066],
  x: [-0.504, 5.48], y: [0, 80], yTicks: [0, 20, 40, 60, 80], tickFont: 23,
  groups: [
    { values: kiHealthyNeg, style: "circle", r: 2.8 },
    { values: kiHealthyPos, style: "rect", r: 3.9 },
    { values: kiHospNeg, style: "triangle", r: 3.6 },
    { values: kiHospPos, style: "triangle", r: 3.6, rot: 180 },
    { values: kiIcuNeg, style: "rectRot", r: 3.2 },
    { values: kiIcuPos, style: smallStar, r: 4 }
  ],
  dx: 8.5, row: 5,
  means: meanG, sems: semG, meanStyle: { half: 22, cap: 12, color: "#999" },
  sig: sigG, sigStyle: { starSize: 22, starGap: 5, nsSize: 16, nsGap: 1 },
  draw(ctx, X) {
    letter(ctx, "G", 831, 721);
    helioLabels(ctx, X, 1066, 6);
    groupLine(ctx, 966, 1067, 1152);
    groupLine(ctx, 1089, 1203, 1152);
    groupLine(ctx, 1226, 1347, 1152);
    label(ctx, "Healthy", 1013, 1183, { size: 23, family: WIDE, align: "center" });
    label(ctx, "Hospitalized", 1155, 1183, { size: 23, family: WIDE, align: "center" });
    label(ctx, "(non ICU)", 1155, 1212, { size: 23, family: WIDE, align: "center" });
    label(ctx, "ICU", 1289, 1183, { size: 23, family: WIDE, align: "center" });
    label(ctx, "%Ki-67^{+} cells", 897, 1097, { size: 20, rot: -Math.PI / 2 });
    arrow(ctx, 908, 1102, 908, 967);
  }
});

// ============================
// H
// ============================
dotPanel({
  box: [1418, 690, 531, 530], area: [1544, 763, 1940, 1058],
  x: [-0.5, 5.5], y: [0, 100], yTicks: [0, 20, 40, 60, 80, 100], tickFont: 23,
  groups: [
    { values: cdHealthyNeg, style: "circle", r: 2.9 },
    { values: cdHealthyPos, style: "rect", r: 4.2 },
    { values: cdHospNeg, style: "triangle", r: 3.6 },
    { values: cdHospPos, style: "triangle", r: 3.6, rot: 180 },
    { values: cdIcuNeg, style: "rectRot", r: 3.2 },
    { values: cdIcuPos, style: smallStar, r: 4 }
  ],
  dx: 9, row: 5,
  means: meanH, sems: semH, meanStyle: { half: 22, cap: 12, color: "#555" },
  sig: sigH, sigStyle: { starSize: 22, starGap: 5, nsSize: 16, nsGap: 1 },
  draw(ctx, X) {
    letter(ctx, "H", 1420, 717);
    helioLabels(ctx, X, 1058, 6);
    groupLine(ctx, 1550, 1653, 1146);
    groupLine(ctx, 1677, 1793, 1146);
    groupLine(ctx, 1816, 1938, 1146);
    label(ctx, "Healthy", 1598, 1177, { size: 23, family: WIDE, align: "center" });
    label(ctx, "Hospitalized", 1743, 1177, { size: 23, family: WIDE, align: "center" });
    label(ctx, "(non ICU)", 1743, 1206, { size: 23, family: WIDE, align: "center" });
    label(ctx, "ICU", 1880, 1177, { size: 23, family: WIDE, align: "center" });
    label(ctx, "%CD38^{+} cells", 1479, 1087, { size: 20, rot: -Math.PI / 2 });
    arrow(ctx, 1493, 1092, 1493, 935);
  }
});

// ============================
// I
// ============================
dotPanel({
  box: [0, 1500, 400, 520], area: [146, 1573, 367, 1903],
  x: [-0.509, 1.5], y: [0, 80], yTicks: [0, 20, 40, 60, 80], tickFont: 23,
  groups: [
    { values: kiTumorNeg, style: "circle", r: 4.3 },
    { values: kiTumorPos, style: "rect", r: 6 }
  ],
  dx: 13, row: 8,
  means: meanI, sems: semI, meanStyle: { half: 36, cap: 18, color: "#666" },
  sig: sigI, sigStyle: { starSize: 24, starGap: 10, nsSize: 24, nsGap: 3 },
  draw(ctx, X) {
    letter(ctx, "I", 5, 1522);
    label(ctx, "HELIOS^{-}", X(0) - 3, 1932, { size: 23, family: WIDE, align: "center", raise: 0.8 });
    label(ctx, "HELIOS^{+}", X(1) + 3, 1932, { size: 23, family: WIDE, align: "center", raise: 0.8 });
    label(ctx, "%Ki-67^{+} cells", 71, 1980, { size: 21, rot: -Math.PI / 2, raise: 0.6 });
    arrow(ctx, 83, 1988, 83, 1828);
  }
});

// ============================
// J
// ============================
function jPanel(k, box, area, pops, extra) {
  flowPanel({
    box, area, x: [0, 100], y: [0, 100],
    xTicks: toxTicks, xLabels: toxLabels, xLog: true,
    yTicks: heliosTicksJ, yLabels: heliosLabelsJ,
    font: 8, tick: 4, xPad: 6, yPad: 8,
    pops,
    draw(ctx, X) {
      ctx.strokeStyle = "#222"; ctx.lineWidth = k < 2 ? 2.2 : 1.6;
      line(ctx, X(toxGate), area[1], X(toxGate), area[3]);
      label(ctx, sampleIds[k], area[0] + 1, area[1] - 5, { size: 20 });
      label(ctx, "Tox^{hi}", area[0] + 111, area[1] + 48, { size: 22, raise: 0.5 });
      label(ctx, toxHiPct[k], area[0] + 111, area[1] + 80, { size: 22 });
      if (extra) extra(ctx);
    }
  });
}

jPanel(0, [505, 1490, 320, 245], [649, 1517, 813, 1713], popsLB9335, ctx => {
  letter(ctx, "J", 517, 1520);
  label(ctx, "Healthy", 592, 1607, { size: 20, align: "center" });
  label(ctx, "control", 592, 1635, { size: 20, align: "center" });
  label(ctx, "(blood)", 592, 1662, { size: 20, align: "center" });
});
jPanel(1, [812, 1490, 200, 245], [837, 1517, 1002, 1713], popsLB2257);
jPanel(2, [505, 1735, 320, 285], [649, 1758, 813, 1954], popsLB6151, ctx => {
  label(ctx, "Ovarian", 583, 1824, { size: 20, align: "center" });
  label(ctx, "cancer", 583, 1853, { size: 20, align: "center" });
  label(ctx, "(tumor)", 583, 1880, { size: 20, align: "center" });
  arrow(ctx, 620, 1975, 620, 1902);
  arrow(ctx, 620, 1975, 698, 1975);
  label(ctx, "HELIOS", 612, 1948, { size: 18, rot: -Math.PI / 2, align: "center" });
  label(ctx, "TOX", 623, 2010, { size: 17 });
});
jPanel(3, [812, 1735, 200, 285], [837, 1758, 1002, 1954], popsLB9240);

// ============================
// K
// ============================
dotPanel({
  box: [1400, 1500, 480, 520], area: [1572, 1573, 1790, 1903],
  x: [-0.5, 1.482], y: [0, 80], yTicks: [0, 20, 40, 60, 80], tickFont: 23,
  groups: [
    { values: toxNeg, style: "circle", r: 4.3 },
    { values: toxPos, style: "rect", r: 6 }
  ],
  dx: 12.5, row: 8,
  means: meanK, sems: semK, meanStyle: { half: 37, cap: 17, color: "#444" },
  sig: sigK, sigStyle: { starSize: 24, starGap: 10, nsSize: 16, nsGap: 2 },
  draw(ctx, X) {
    letter(ctx, "K", 1422, 1523);
    label(ctx, "TOX^{hi} in HELIOS + vs -", 1678, 1543, { size: 21, family: WIDE, align: "center", raise: 0.45 });
    label(ctx, "HELIOS^{-}", X(0) - 3, 1933, { size: 23, family: WIDE, align: "center", raise: 0.8 });
    label(ctx, "HELIOS^{+}", X(1) + 3, 1933, { size: 23, family: WIDE, align: "center", raise: 0.8 });
    label(ctx, "%TOX^{hi} cells", 1476, 1982, { size: 21, rot: -Math.PI / 2 });
    arrow(ctx, 1489, 1988, 1489, 1835);
  }
});
</script>
</body>
</html>
